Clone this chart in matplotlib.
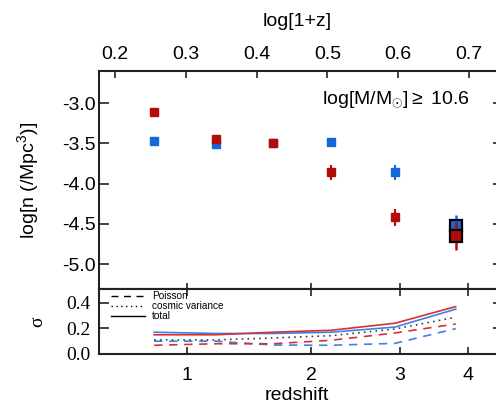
import numpy as np
import matplotlib
matplotlib.use("Agg")
import matplotlib.pyplot as plt
from matplotlib.lines import Line2D

plt.rcParams['font.family'] = ['Liberation Sans', 'DejaVu Sans']
plt.rcParams['mathtext.fontset'] = 'custom'
plt.rcParams['mathtext.rm'] = 'Liberation Sans'
plt.rcParams['mathtext.it'] = 'Liberation Sans:italic'

# ---- data ----
redshift = [0.80, 1.20, 1.65, 2.20, 2.94, 3.80]
logn_blue = [-3.47, -3.51, -3.49, -3.48, -3.86, -4.53]
err_blue = [0.04, 0.05, 0.04, 0.05, 0.09, 0.14]
logn_red = [-3.11, -3.45, -3.50, -3.86, -4.42, -4.65]
err_red = [0.04, 0.06, 0.04, 0.09, 0.11, 0.17]

sig_total_red = [0.15, 0.15, 0.17, 0.185, 0.24, 0.37]
sig_total_blue = [0.17, 0.16, 0.16, 0.17, 0.21, 0.35]
sig_cv = [0.11, 0.11, 0.125, 0.143, 0.195, 0.287]
sig_pois_red = [0.068, 0.08, 0.08, 0.107, 0.164, 0.234]
sig_pois_blue = [0.10, 0.10, 0.07, 0.068, 0.083, 0.198]

top_ticks = [0.2, 0.3, 0.4, 0.5, 0.6, 0.7]
z_ticks = [1, 2, 3, 4]
y_ticks = [-3.0, -3.5, -4.0, -4.5, -5.0]
sig_ticks = [0.0, 0.2, 0.4]

RED = '#b40a0a'
BLUE = '#1468dc'
LRED = '#d23232'
LBLUE = '#3c82e6'
SP = '#222222'

x = np.log10(1 + np.array(redshift))

fig = plt.figure(figsize=(4.96, 4.07), dpi=100)
ax = fig.add_axes([99/496, 1-289/407, 404/496, 218/407])
axb = fig.add_axes([99/496, 1-354/407, 404/496, 65/407])
xlim = (0.1774, 0.7480)

# main panel
ax.errorbar(x[:-1], logn_blue[:-1], yerr=err_blue[:-1], fmt='s', color=BLUE,
            ms=6.3, mec=BLUE, elinewidth=1.5, capsize=0, zorder=3)
ax.errorbar(x[:-1], logn_red[:-1], yerr=err_red[:-1], fmt='s', color=RED,
            ms=6.3, mec=RED, elinewidth=1.5, capsize=0, zorder=4)
ax.errorbar(x[-1:], logn_blue[-1:], yerr=err_blue[-1:], fmt='s', color=BLUE,
            ms=8.5, mec='black', mew=1.6, elinewidth=1.8, capsize=0, zorder=5)
ax.errorbar(x[-1:], logn_red[-1:], yerr=err_red[-1:], fmt='s', color=RED,
            ms=8.5, mec='black', mew=1.6, elinewidth=1.8, capsize=0, zorder=6)

ax.set_xlim(*xlim)
ax.set_ylim(-5.31, -2.60)
ax.set_xticks(top_ticks)
ax.set_xticklabels([f'{t:.1f}' for t in top_ticks])
ax.set_yticks(y_ticks)
ax.set_yticklabels([f'{t:.1f}' for t in y_ticks])
ax.tick_params(axis='x', which='both', top=True, labeltop=True, bottom=False,
               labelbottom=False, direction='in', length=5, width=1.2,
               labelsize=14, pad=6, color=SP)
ax.tick_params(axis='y', which='both', left=True, right=True, direction='in',
               length=7, width=1.2, labelsize=14, pad=2, color=SP)
sec = ax.secondary_xaxis('bottom')
sec.set_xticks(np.log10(1 + np.array(z_ticks)))
sec.set_xticklabels([])
sec.tick_params(direction='in', length=4, width=1.2, color=SP)
for s in sec.spines.values():
    s.set_visible(False)
for s in ax.spines.values():
    s.set_linewidth(1.5)
    s.set_color(SP)

ax.text(0.918, 0.867, r'log[M/M$_{\odot}$]$\geq$ 10.6', transform=ax.transAxes,
        ha='right', va='center', fontsize=14)

# bottom panel
axb.plot(x, sig_pois_blue, color=LBLUE, lw=1.2, ls=(0, (5, 4)))
axb.plot(x, sig_pois_red, color=LRED, lw=1.2, ls=(0, (5, 4)))
axb.plot(x, sig_cv, color='#404040', lw=1.2, ls=(0, (1, 2.5)))
axb.plot(x, sig_total_blue, color=LBLUE, lw=1.2)
axb.plot(x, sig_total_red, color=LRED, lw=1.2)

handles = [Line2D([], [], color='black', lw=1.0, ls=(0, (5, 4))),
           Line2D([], [], color='black', lw=1.0, ls=(0, (1, 2.5))),
           Line2D([], [], color='black', lw=1.0)]
axb.legend(handles, ['Poisson', 'cosmic variance', 'total'], loc='upper left',
           bbox_to_anchor=(0.018, 1.04), frameon=False, fontsize=7.2,
           handlelength=3.4, handletextpad=0.7, labelspacing=0.0,
           borderpad=0.2, borderaxespad=0.3)

axb.set_xlim(*xlim)
axb.set_ylim(0.0, 0.507)
axb.set_xticks(np.log10(1 + np.array(z_ticks)))
axb.set_xticklabels([str(z) for z in z_ticks])
axb.set_yticks(sig_ticks)
axb.set_yticklabels([f'{t:.1f}' for t in sig_ticks], family='Liberation Serif')
axb.tick_params(axis='x', top=True, bottom=True, direction='in', length=5,
                width=1.2, labelsize=14, pad=9, color=SP)
axb.tick_params(axis='y', left=True, right=True, direction='in', length=7,
                width=1.2, labelsize=14, pad=6, color=SP)
for s in axb.spines.values():
    s.set_linewidth(1.5)
    s.set_color(SP)

fig.text(297/496, 1-22/407, 'log[1+z]', ha='center', va='center', fontsize=14)
fig.text(297/496, 1-395/407, 'redshift', ha='center', va='center', fontsize=14)
fig.text(28/496, 1-180/407, r'log[n (/Mpc$^3$)]', ha='center', va='center',
         rotation=90, fontsize=14)
fig.text(38/496, 1-322/407, 'σ', ha='center', va='center',
         rotation=90, fontsize=14, family=['Liberation Serif', 'DejaVu Serif'])

fig.savefig('out.png', dpi=100)
